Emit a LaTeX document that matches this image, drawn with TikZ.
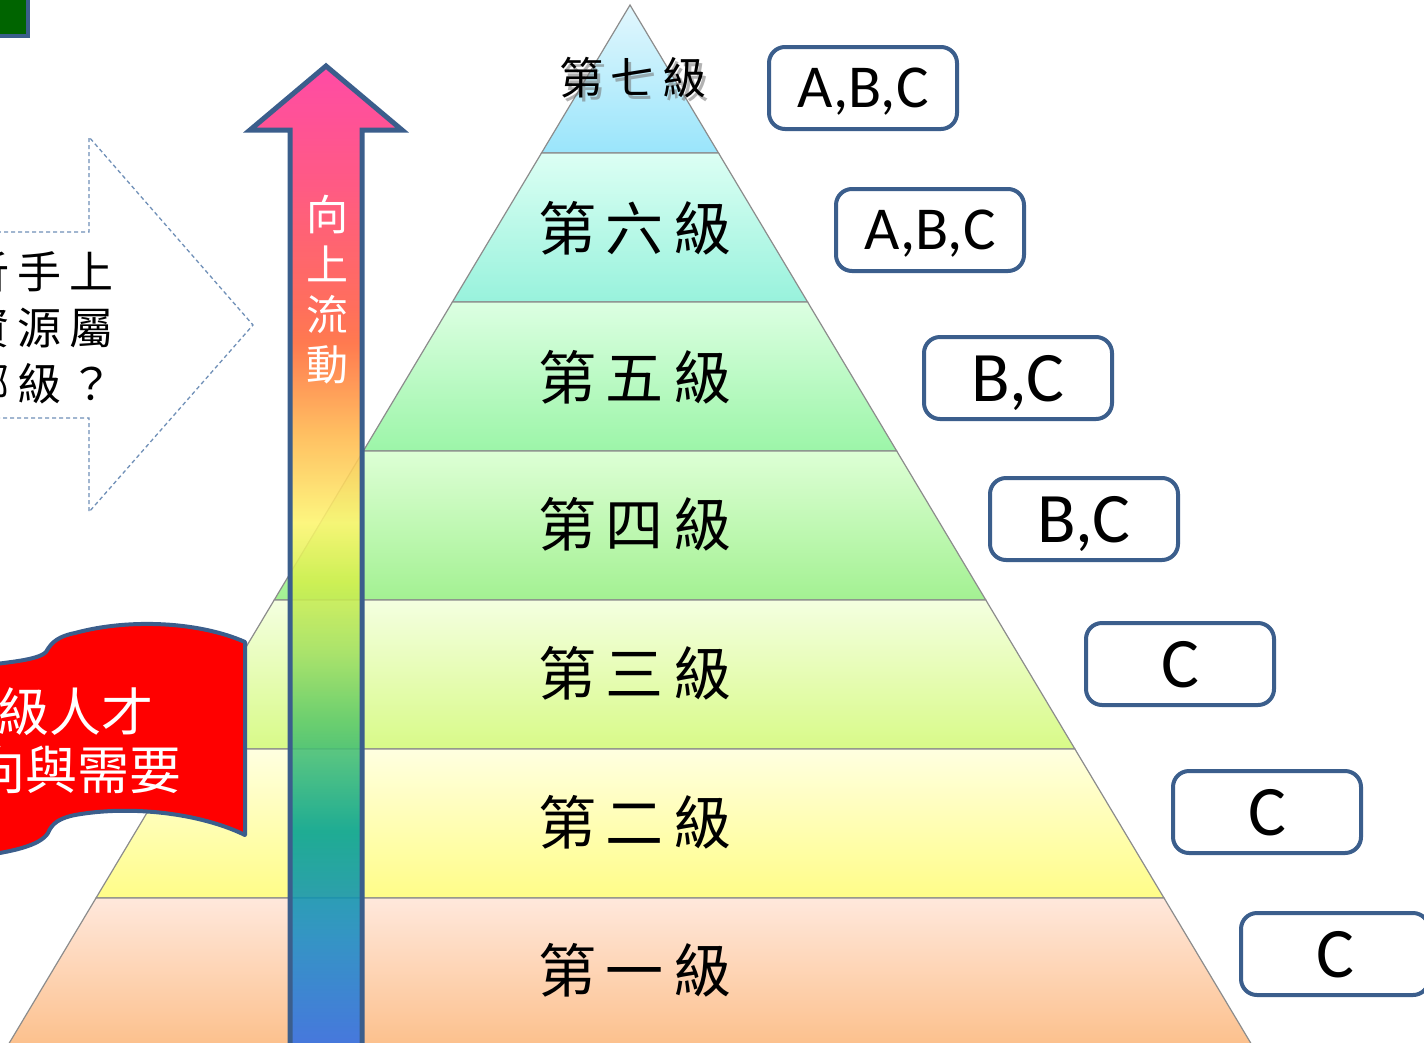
\documentclass[tikz,border=0pt]{standalone}
\usepackage{fontspec}
\newfontfamily\cjk{Noto Sans CJK TC}
\newfontfamily\latinbox{Carlito}
\definecolor{bordblue}{HTML}{3B5E8C}
\definecolor{laygray}{HTML}{8C8C8C}
\definecolor{dashblue}{HTML}{7090B8}
\definecolor{flagred}{HTML}{FF0000}
\definecolor{darkgreen}{HTML}{006400}
\definecolor{lsevt}{HTML}{E2F7FD}\definecolor{lsevb}{HTML}{9AE5FB}
\definecolor{lsixt}{HTML}{DCFFF4}\definecolor{lsixb}{HTML}{98F2DC}
\definecolor{lfivt}{HTML}{DCFFE2}\definecolor{lfivb}{HTML}{9CF5A8}
\definecolor{lfout}{HTML}{DDFFD5}\definecolor{lfoub}{HTML}{A3F192}
\definecolor{ltht}{HTML}{F4FFE0}\definecolor{lthb}{HTML}{D8FA88}
\definecolor{ltwt}{HTML}{FFFFE0}\definecolor{ltwb}{HTML}{FFFD88}
\definecolor{lont}{HTML}{FFE8DC}\definecolor{lonb}{HTML}{FCBF8A}
\definecolor{agA}{HTML}{2F6DEA}
\definecolor{agB}{HTML}{1A8AC6}
\definecolor{agC}{HTML}{00A190}
\definecolor{agD}{HTML}{5CC96A}
\definecolor{agE}{HTML}{A2E060}
\definecolor{agF}{HTML}{D2F04C}
\definecolor{agG}{HTML}{FDF56E}
\definecolor{agH}{HTML}{FFB64C}
\definecolor{agI}{HTML}{FF6838}
\definecolor{agJ}{HTML}{FF5A48}
\definecolor{agK}{HTML}{FF4474}
\definecolor{agL}{HTML}{FF3399}
\pgfdeclareverticalshading{arrowgrad}{100bp}{color(0bp)=(agA); color(25bp)=(agA); color(30.57bp)=(agB); color(36.13bp)=(agC); color(41.7bp)=(agD); color(45.24bp)=(agE); color(48.79bp)=(agF); color(51.82bp)=(agG); color(56.38bp)=(agH); color(60.93bp)=(agI); color(62.96bp)=(agJ); color(69.03bp)=(agK); color(75bp)=(agL); color(100bp)=(agL)}
\begin{document}
\begin{tikzpicture}[x=1pt,y=-1pt,
  lay/.style={draw=laygray, line width=1.2pt},
  lvl/.style={font=\cjk\fontsize{58}{58}\selectfont, inner sep=0pt, text=black},
  lvlsev/.style={font=\cjk\fontsize{44}{44}\selectfont, inner sep=0pt},
  abox/.style={draw=bordblue, line width=4pt, rounded corners=16pt, fill=white,
    minimum width=188pt, minimum height=82pt, inner sep=0pt, text depth=0pt},
  boxsmall/.style={font=\latinbox\fontsize{61}{61}\selectfont},
  boxbig/.style={font=\latinbox\fontsize{71}{71}\selectfont},
  dasharrow/.style={draw=dashblue, line width=1.3pt, dash pattern=on 4pt off 3pt},
  qtext/.style={font=\cjk\fontsize{44}{44}\selectfont, inner sep=0pt, text=black},
  flagtext/.style={font=\cjk\fontsize{52}{52}\selectfont, inner sep=0pt, text=white, anchor=east},
  bigarrow/.style={shading=arrowgrad, draw=bordblue, line width=5pt, line join=miter, fill opacity=0.88}
]
\useasboundingbox (0,0) rectangle (1424,1042);
\clip (0,0) rectangle (1424,1042);
\fill[white] (0,0) rectangle (1424,1042);

% pyramid layers
\path[lay, top color=lsevt, bottom color=lsevb] (630,5) -- (718.5,153) -- (541.5,153) -- cycle;
\path[lay, top color=lsixt, bottom color=lsixb] (541.5,153) -- (718.5,153) -- (807.6,302) -- (452.4,302) -- cycle;
\path[lay, top color=lfivt, bottom color=lfivb] (452.4,302) -- (807.6,302) -- (896.7,451) -- (363.3,451) -- cycle;
\path[lay, top color=lfout, bottom color=lfoub] (363.3,451) -- (896.7,451) -- (985.8,600) -- (274.2,600) -- cycle;
\path[lay, top color=ltht, bottom color=lthb] (274.2,600) -- (985.8,600) -- (1074.9,749) -- (185.1,749) -- cycle;
\path[lay, top color=ltwt, bottom color=ltwb] (185.1,749) -- (1074.9,749) -- (1164,898) -- (96,898) -- cycle;
\path[lay, top color=lont, bottom color=lonb] (96,898) -- (1164,898) -- (1254.9,1050) -- (5.1,1050) -- cycle;

% level labels
\node[lvlsev, text=black!55, opacity=0.55] (l7s) at (636,82) {第\hspace{8pt}七\hspace{8pt}級};
\node[lvlsev, text=black] (l7) at (633,78) {第\hspace{8pt}七\hspace{8pt}級};
\node[lvl] (l6) at (635,228) {第\hspace{10pt}六\hspace{10pt}級};
\node[lvl] (l5) at (635,377) {第\hspace{10pt}五\hspace{10pt}級};
\node[lvl] (l4) at (635,524) {第\hspace{10pt}四\hspace{10pt}級};
\node[lvl] (l3) at (635,673) {第\hspace{10pt}三\hspace{10pt}級};
\node[lvl] (l2) at (635,822) {第\hspace{10pt}二\hspace{10pt}級};
\node[lvl] (l1) at (635,970) {第\hspace{10pt}一\hspace{10pt}級};

% right-hand boxes
\node[abox, boxsmall] (b7) at (863,88) {A,B,C};
\node[abox, boxsmall] (b6) at (930,230) {A,B,C};
\node[abox, boxbig] (b5) at (1018,378) {B,C};
\node[abox, boxbig] (b4) at (1084,519) {B,C};
\node[abox, boxbig] (b3) at (1180,664) {C};
\node[abox, boxbig] (b2) at (1267,812) {C};
\node[abox, boxbig] (b1) at (1335,954) {C};

% big upward arrow
\shadedraw[bigarrow] (326,66) -- (402,130) -- (362,130) -- (362,1050) -- (290,1050) -- (290,130) -- (250,130) -- cycle;
\node[font=\cjk\fontsize{42}{50}\selectfont, text=white, align=center, inner sep=0pt] (arrtxt) at (327,290) {向\\上\\流\\動};

% dashed block arrow on the left
\draw[dasharrow] (-10,232) -- (89,232) -- (89,137) -- (253,325) -- (89,512) -- (89,418) -- (-10,418);
\node[qtext] (q1) at (40,272) {析\hspace{8pt}手\hspace{8pt}上};
\node[qtext] (q2) at (40,328) {資\hspace{8pt}源\hspace{8pt}屬};
\node[qtext] (q3) at (40,384) {哪\hspace{8pt}級\hspace{8pt}？};

% red flag
\draw[draw=bordblue, line width=4pt, fill=flagred, line join=round]
  (-20,666) .. controls (10,662) and (38,660) .. (46,652)
  .. controls (52,641) and (60,636) .. (75,633)
  .. controls (130,618) and (200,622) .. (245,642)
  -- (245,835)
  .. controls (200,813) and (130,805) .. (75,815)
  .. controls (60,818) and (52,823) .. (48,833)
  .. controls (40,846) and (10,852) .. (-20,856) -- cycle;
\node[flagtext] (f1) at (154,712) {級人才};
\node[flagtext] (f2) at (182,770) {向與需要};

% green box at the top-left corner
\draw[draw=bordblue, line width=4pt, fill=darkgreen] (-20,-20) rectangle (28,36);
\end{tikzpicture}
\end{document}
